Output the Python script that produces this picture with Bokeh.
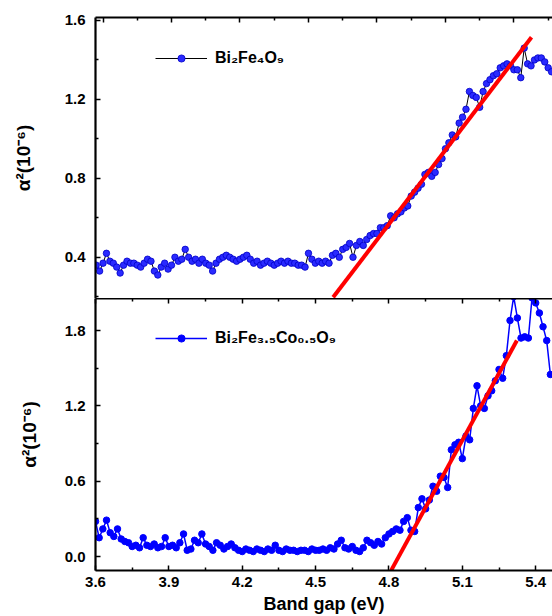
from bokeh.plotting import figure
from bokeh.models import (Range1d, LinearAxis, FixedTicker, PrintfTickFormatter,
                          CustomJSTickFormatter, Legend, LegendItem)
from bokeh.layouts import column
from bokeh.embed import file_html
from bokeh.resources import INLINE

FONT = "Liberation Sans"

# ---------------- data: top panel (Bi2Fe4O9) ----------------
x_top = [3.570, 3.585, 3.600, 3.615, 3.630, 3.645, 3.660, 3.675, 3.690, 3.705,
         3.720, 3.735, 3.750, 3.765, 3.780, 3.795, 3.810, 3.825, 3.840, 3.855,
         3.870, 3.885, 3.900, 3.915, 3.930, 3.945, 3.960, 3.975, 3.990, 4.005,
         4.020, 4.035, 4.050, 4.065, 4.080, 4.095, 4.110, 4.125, 4.140, 4.155,
         4.170, 4.185, 4.200, 4.215, 4.230, 4.245, 4.260, 4.275, 4.290, 4.305,
         4.320, 4.335, 4.350, 4.365, 4.380, 4.395, 4.410, 4.425, 4.440, 4.455,
         4.470, 4.485, 4.500, 4.515, 4.530, 4.545, 4.560, 4.575, 4.590, 4.605,
         4.620, 4.635, 4.650, 4.665, 4.680, 4.695, 4.710, 4.725, 4.740, 4.755,
         4.770, 4.785, 4.800, 4.815, 4.830, 4.845, 4.860, 4.875, 4.890, 4.905,
         4.920, 4.935, 4.950, 4.965, 4.980, 4.995, 5.010, 5.025, 5.040, 5.055,
         5.070, 5.085, 5.100, 5.115, 5.130, 5.145, 5.160, 5.175, 5.190, 5.205,
         5.220, 5.235, 5.250, 5.265, 5.280, 5.295, 5.310, 5.325, 5.340, 5.355,
         5.370, 5.385, 5.400, 5.415, 5.430, 5.445, 5.460, 5.475, 5.490, 5.505,
         5.520, 5.535, 5.550, 5.565]
y_top = [0.36, 0.33, 0.37, 0.42, 0.38, 0.37, 0.35, 0.32, 0.36, 0.38,
         0.37, 0.37, 0.36, 0.35, 0.37, 0.39, 0.38, 0.33, 0.31, 0.35,
         0.37, 0.34, 0.36, 0.40, 0.38, 0.39, 0.44, 0.40, 0.38, 0.39,
         0.37, 0.39, 0.37, 0.36, 0.33, 0.37, 0.39, 0.40, 0.41, 0.40,
         0.39, 0.38, 0.39, 0.40, 0.41, 0.39, 0.37, 0.38, 0.36, 0.37,
         0.38, 0.37, 0.36, 0.37, 0.38, 0.37, 0.38, 0.37, 0.37, 0.36,
         0.36, 0.35, 0.42, 0.39, 0.37, 0.38, 0.37, 0.38, 0.37, 0.41,
         0.42, 0.40, 0.44, 0.45, 0.47, 0.40, 0.46, 0.48, 0.46, 0.49,
         0.51, 0.52, 0.52, 0.55, 0.55, 0.56, 0.61, 0.60, 0.62, 0.63,
         0.65, 0.66, 0.71, 0.73, 0.75, 0.77, 0.82, 0.83, 0.81, 0.83,
         0.87, 0.90, 0.95, 0.98, 1.02, 1.01, 1.08, 1.11, 1.15, 1.24,
         1.22, 1.21, 1.16, 1.24, 1.28, 1.30, 1.32, 1.33, 1.36, 1.37,
         1.38, 1.37, 1.35, 1.35, 1.31, 1.46, 1.38, 1.37, 1.40, 1.41,
         1.41, 1.39, 1.36, 1.34]
fit_top_x = [4.608, 5.477]
fit_top_y = [0.197, 1.515]

# ---------------- data: bottom panel (Bi2Fe3.5Co0.5O9) ----------------
x_bot = [3.600, 3.615, 3.630, 3.645, 3.660, 3.675, 3.690, 3.705, 3.720, 3.735,
         3.750, 3.765, 3.780, 3.795, 3.810, 3.825, 3.840, 3.855, 3.870, 3.885,
         3.900, 3.915, 3.930, 3.945, 3.960, 3.975, 3.990, 4.005, 4.020, 4.035,
         4.050, 4.065, 4.080, 4.095, 4.110, 4.125, 4.140, 4.155, 4.170, 4.185,
         4.200, 4.215, 4.230, 4.245, 4.260, 4.275, 4.290, 4.305, 4.320, 4.335,
         4.350, 4.365, 4.380, 4.395, 4.410, 4.425, 4.440, 4.455, 4.470, 4.485,
         4.500, 4.515, 4.530, 4.545, 4.560, 4.575, 4.590, 4.605, 4.620, 4.635,
         4.650, 4.665, 4.680, 4.695, 4.710, 4.725, 4.740, 4.755, 4.770, 4.785,
         4.800, 4.815, 4.830, 4.845, 4.860, 4.875, 4.890, 4.905, 4.920, 4.935,
         4.950, 4.965, 4.980, 4.995, 5.010, 5.025, 5.040, 5.055, 5.070, 5.085,
         5.100, 5.115, 5.130, 5.145, 5.160, 5.175, 5.190, 5.205, 5.220, 5.235,
         5.250, 5.265, 5.280, 5.295, 5.310, 5.325, 5.340, 5.355, 5.370, 5.385,
         5.400, 5.415, 5.430, 5.445, 5.460]
y_bot = [0.28, 0.15, 0.22, 0.29, 0.19, 0.16, 0.22, 0.14, 0.12, 0.11,
         0.08, 0.09, 0.07, 0.15, 0.09, 0.08, 0.10, 0.07, 0.08, 0.15,
         0.08, 0.09, 0.07, 0.11, 0.18, 0.05, 0.06, 0.13, 0.11, 0.18,
         0.10, 0.08, 0.05, 0.11, 0.09, 0.06, 0.08, 0.10, 0.07, 0.05,
         0.04, 0.06, 0.05, 0.04, 0.06, 0.05, 0.04, 0.06, 0.05, 0.09,
         0.05, 0.04, 0.06, 0.05, 0.05, 0.04, 0.05, 0.05, 0.04, 0.06,
         0.05, 0.05, 0.06, 0.05, 0.07, 0.06, 0.10, 0.13, 0.07, 0.06,
         0.08, 0.05, 0.04, 0.07, 0.13, 0.11, 0.09, 0.12, 0.10, 0.15,
         0.18, 0.20, 0.22, 0.21, 0.28, 0.31, 0.21, 0.20, 0.39, 0.46,
         0.38, 0.45, 0.56, 0.52, 0.64, 0.63, 0.55, 0.85, 0.89, 0.91,
         0.78, 0.96, 0.93, 1.18, 1.36, 1.20, 1.18, 1.28, 1.32, 1.40,
         1.49, 1.42, 1.60, 1.88, 2.07, 1.90, 1.74, 1.75, 1.74, 2.06,
         2.02, 1.94, 1.83, 1.72, 1.45]
fit_bot_x = [4.809, 5.323]
fit_bot_y = [-0.11, 1.72]

# ---------------- tick values ----------------
top_x_major = [3.6, 3.9, 4.2, 4.5, 4.8, 5.1, 5.4]
top_x_minor = [3.75, 4.05, 4.35, 4.65, 4.95, 5.25, 5.55]
top_y_major = [0.4, 0.8, 1.2, 1.6]
top_y_minor = [0.2, 0.6, 1.0, 1.4]
bot_x_major = [3.6, 3.9, 4.2, 4.5, 4.8, 5.1, 5.4]
bot_x_minor = [3.75, 4.05, 4.35, 4.65, 4.95, 5.25]
bot_y_major = [0.0, 0.6, 1.2, 1.8]
bot_y_minor = [0.3, 0.9, 1.5]

label_top = "Bi₂Fe₄O₉"
label_bot = "Bi₂Fe₃.₅Co₀.₅O₉"
y_title = "α²(10⁻⁶)"
x_title = "Band gap (eV)"


def make_axis(major, minor, labels=True):
    ax = LinearAxis(ticker=FixedTicker(ticks=major, minor_ticks=minor))
    ax.axis_line_width = 2.2
    ax.axis_line_color = "black"
    ax.major_tick_in = 5
    ax.major_tick_out = 0
    ax.minor_tick_in = 3
    ax.minor_tick_out = 0
    ax.major_tick_line_width = 1.5
    ax.minor_tick_line_width = 1.5
    ax.major_tick_line_color = "black"
    ax.minor_tick_line_color = "black"
    if labels:
        ax.formatter = PrintfTickFormatter(format="%.1f")
        ax.major_label_text_font = FONT
        ax.major_label_text_font_style = "bold"
        ax.major_label_text_font_size = "15px"
        ax.major_label_text_color = "black"
    else:
        ax.formatter = CustomJSTickFormatter(code="return ''")
        ax.major_label_text_font_size = "1px"
        ax.major_label_standoff = 0
    ax.axis_label_text_color = "black"
    ax.axis_label_text_font = FONT
    ax.axis_label_text_font_style = "bold"
    return ax


def base_fig(h, xr, yr, left, top, bottom):
    p = figure(width=552, height=h, x_range=Range1d(*xr), y_range=Range1d(*yr),
               x_axis_type=None, y_axis_type=None,
               output_backend="svg", toolbar_location=None)
    p.min_border_left = left
    p.min_border_right = 0
    p.min_border_top = top
    p.min_border_bottom = bottom
    p.outline_line_color = None
    p.background_fill_color = "white"
    p.border_fill_color = "white"
    return p


# ---------------- top panel ----------------
p1 = base_fig(298, (3.567, 5.569), (0.191, 1.615), 95, 17, 0)
ay1 = make_axis(top_y_major, top_y_minor)
ay1.major_label_standoff = 10
ay1.axis_label = y_title
ay1.axis_label_text_font_size = "19px"
ay1.axis_label_standoff = 28
p1.add_layout(ay1, "left")
p1.add_layout(make_axis(top_x_major, top_x_minor, labels=False), "above")

l1 = p1.line(x_top, y_top, line_color="black", line_width=1)
s1 = p1.scatter(x_top, y_top, marker="circle", size=6.5, fill_color="#2a2aff",
                line_color="#0000c8", line_width=0.8)
p1.line(fit_top_x, fit_top_y, line_color="#ff0000", line_width=4)

leg1 = Legend(items=[LegendItem(label=label_top, renderers=[l1, s1])],
              location=(60, 231), border_line_color=None, background_fill_alpha=0,
              padding=0, margin=0, spacing=0, glyph_width=52, glyph_height=18,
              label_height=18, label_standoff=8, label_text_font=FONT,
              label_text_font_style="bold", label_text_font_size="16px",
              label_text_color="black")
p1.add_layout(leg1)

# ---------------- bottom panel ----------------
p2 = base_fig(318, (3.6, 5.4687), (-0.111, 2.055), 91, 0, 46)
ay2 = make_axis(bot_y_major, bot_y_minor)
ay2.major_label_standoff = 10
ay2.axis_label = y_title
ay2.axis_label_text_font_size = "19px"
ay2.axis_label_standoff = 22
p2.add_layout(ay2, "left")
p2.add_layout(make_axis(bot_x_major, bot_x_minor, labels=False), "above")
ax2 = make_axis(bot_x_major, bot_x_minor)
ax2.major_label_standoff = 6
ax2.axis_label = x_title
ax2.axis_label_text_font_size = "18px"
ax2.axis_label_standoff = 4
p2.add_layout(ax2, "below")

l2 = p2.line(x_bot, y_bot, line_color="#0000ff", line_width=1.5)
s2 = p2.scatter(x_bot, y_bot, marker="circle", size=6.5, fill_color="#0000ff",
                line_color="#0000ff")
p2.line(fit_bot_x, fit_bot_y, line_color="#ff0000", line_width=4)

leg2 = Legend(items=[LegendItem(label=label_bot, renderers=[l2, s2])],
              location=(60, 223), border_line_color=None, background_fill_alpha=0,
              padding=0, margin=0, spacing=0, glyph_width=52, glyph_height=18,
              label_height=18, label_standoff=8, label_text_font=FONT,
              label_text_font_style="bold", label_text_font_size="16px",
              label_text_color="black")
p2.add_layout(leg2)

layout = column(p1, p2, spacing=0)
open("out.html", "w").write(file_html(layout, INLINE))
